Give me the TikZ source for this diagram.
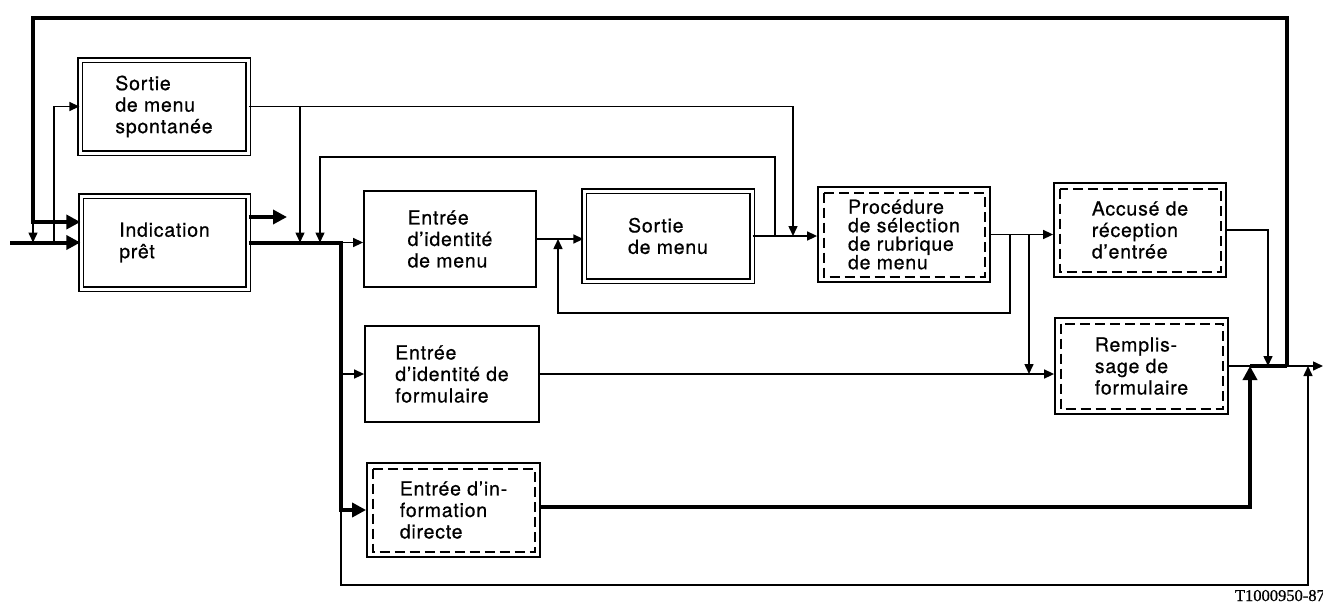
\documentclass[tikz,border=0pt]{standalone}
\usepackage{fontspec}
\setmainfont[LetterSpace=4, FakeBold=0.6]{TeX Gyre Heros}
\newfontfamily\codefont[FakeBold=0.8]{Liberation Serif}
\usetikzlibrary{arrows.meta}

\begin{document}
\begin{tikzpicture}[x=1pt, y=-1pt,
		box/.style={draw, line width=1.8pt, inner sep=0pt, align=left, font=\fontsize{19.5}{21.5}\selectfont},
		dblbox/.style={box, line width=1.3pt, double, double distance=3pt},
		dashbox/.style={box, path picture={\draw[line width=2pt, dash pattern=on 10pt off 5pt] ([shift={(5.5pt,-5.5pt)}]path picture bounding box.north west) rectangle ([shift={(-5.5pt,5.5pt)}]path picture bounding box.south east);}},
		line/.style={line width=1.5pt},
		flow/.style={line width=1.5pt, -{Triangle[length=10pt,width=9pt]}},
		bus/.style={line width=4pt},
		busflow/.style={line width=4pt, -{Triangle[length=14pt,width=14pt]}},
	]
		\useasboundingbox (0,0) rectangle (1323,603);
		
		% boxes
		\node[dblbox, minimum width=168pt, minimum height=93pt] (spont) at (164,106.5) {Sortie\\de menu\\spontanée};
		\node[dblbox, minimum width=167pt, minimum height=93pt] (ready) at (164.5,242.5) {Indication\\prêt};
		\node[box, minimum width=172pt, minimum height=96pt] (idmenu) at (450,239) {Entrée\\d’identité\\de menu};
		\node[dblbox, minimum width=168pt, minimum height=90pt] (menuout) at (668,236) {Sortie\\de menu};
		\node[dashbox, minimum width=172pt, minimum height=95pt, font=\fontsize{19.5}{18.5}\selectfont] (select) at (904,234.5) {Procédure\\de sélection\\de rubrique\\de menu};
		\node[dashbox, minimum width=172pt, minimum height=94pt] (ack) at (1140,230) {Accusé de\\réception\\d’entrée};
		\node[dashbox, minimum width=173pt, minimum height=96pt] (fill) at (1141.5,366) {Remplis-\\sage de\\formulaire};
		\node[box, minimum width=174pt, minimum height=96pt] (idform) at (452,374) {Entrée\\d’identité de\\formulaire};
		\node[dashbox, minimum width=173pt, minimum height=94pt] (direct) at (453.5,510) {Entrée d’in-\\formation\\directe};
		
		\node[font=\codefont\fontsize{16.5}{18}\selectfont, anchor=base east, inner sep=0pt] (code) at (1325,601) {T1000950-87};
		
		% junctions
		\coordinate (inL) at (10,242.5);
		\coordinate (merge) at (1287,366);
		\coordinate (outR) at (1323,366);
		\coordinate (topR) at (1287,18);
		\coordinate (topL) at (33,18);
		\coordinate (fbin) at (33,222);
		\coordinate (tapS) at (54,242.5);
		\coordinate (stub) at (287,217);
		\coordinate (bus) at (341,242.5);
		\coordinate (busEnd) at (341,585);
		\coordinate (botR) at (1308,585);
		\coordinate (spR) at (793,106.5);
		\coordinate (tapA) at (300,106.5);
		\coordinate (loopA) at (775,157);
		\coordinate (loopB) at (320,157);
		\coordinate (backR) at (1010,313);
		\coordinate (backL) at (558,313);
		\coordinate (tapF) at (1029,234.5);
		\coordinate (ackR) at (1268,230);
		\coordinate (upD) at (1250,507);
		
		% entry and outer loop
		\draw[busflow] (inL) -- (ready.west);
		\draw[busflow] (merge) -- (topR) -- (topL) -- (fbin) -- (fbin -| ready.west);
		\draw[flow] (fbin) -- (fbin |- inL);
		\draw[flow] (tapS) |- (spont.west);
		\draw[busflow] (stub -| ready.east) -- (stub);
		
		% main bus
		\draw[busflow] (ready.east) -- (bus) -- (bus |- direct.west) -- (direct.west);
		\draw[flow] (bus) -- (bus -| idmenu.west);
		\draw[flow] (bus |- idform.west) -- (idform.west);
		\draw[flow] (bus |- direct.west) -- (busEnd) -- (botR) -- (botR |- merge);
		
		% spontaneous menu
		\draw[flow] (spont.east) -- (spR) -- (spR |- menuout.east);
		\draw[flow] (tapA) -- (tapA |- bus);
		\draw[flow] (loopA |- menuout.east) -- (loopA) -- (loopB) -- (loopB |- bus);
		
		% menu row
		\draw[flow] (idmenu.east) -- (idmenu.east -| menuout.west);
		\draw[flow] (menuout.east) -- (menuout.east -| select.west);
		\draw[flow] (select.east) -- (select.east -| ack.west);
		\draw[flow] (backR |- select.east) -- (backR) -- (backL) -- (backL |- idmenu.east);
		\draw[flow] (tapF) -- (tapF |- idform.east);
		\draw[flow] (idform.east) -- (idform.east -| fill.west);
		
		% output
		\draw[flow] (ack.east) -- (ackR) -- (ackR |- merge);
		\draw[busflow] (direct.east |- upD) -- (upD) -- (upD |- merge);
		\draw[line] (fill.east) -- (upD |- merge);
		\draw[bus] (upD |- merge) -- (merge);
		\draw[flow] (merge) -- (outR);
	\end{tikzpicture}
\end{document}
